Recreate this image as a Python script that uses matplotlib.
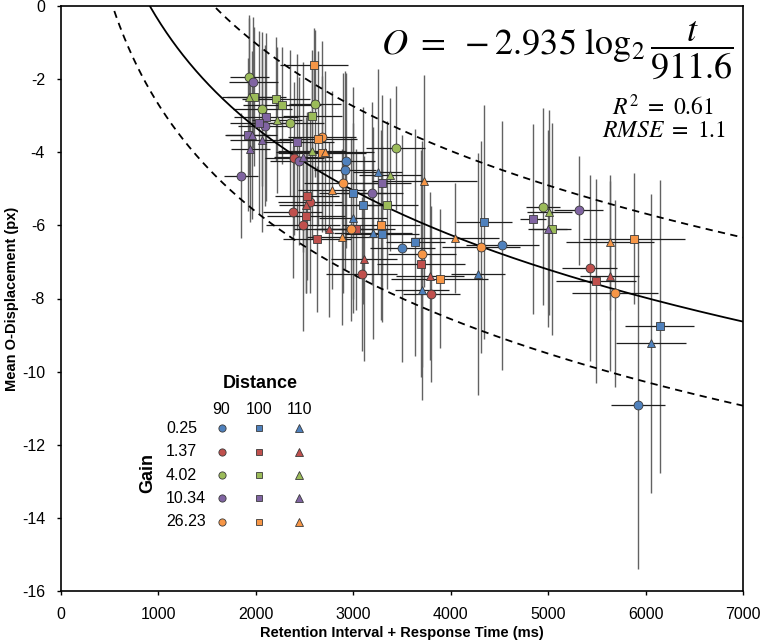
import numpy as np
import matplotlib.pyplot as plt

plt.rcParams['font.family'] = ['Liberation Sans', 'DejaVu Sans']
plt.rcParams['axes.unicode_minus'] = False
plt.rcParams['mathtext.fontset'] = 'stix'

# legend categories
gain_labels = ['0.25', '1.37', '4.02', '10.34', '26.23']
distance_labels = ['90', '100', '110']
gain_colors = ['#4F81BD', '#C0504D', '#9BBB59', '#8064A2', '#F79646']
dist_markers = ['o', 's', '^']

# data points
gain_idx = [0]*17 + [1]*18 + [2]*17 + [3]*17 + [4]*18
dist_idx = ([0]*5 + [1]*6 + [2]*6 +
            [0]*7 + [1]*6 + [2]*5 +
            [0]*6 + [1]*6 + [2]*5 +
            [0]*6 + [1]*6 + [2]*5 +
            [0]*6 + [1]*6 + [2]*6)
t_ms = [2925, 2918, 3505, 4530, 5925,
        3000, 3100, 3292, 3637, 4342, 6143,
        3251, 3000, 3199, 4280, 3702, 6056,
        2395, 2559, 2378, 2487, 3086, 3801, 5427,
        2525, 2512, 2625, 3028, 3695, 5494,
        2515, 2754, 3113, 3790, 5632,
        1930, 2066, 2350, 2607, 3435, 4947,
        1978, 2207, 2268, 2580, 3343, 5037,
        1933, 2217, 2576, 3377, 5012,
        1974, 2097, 2443, 1848, 3192, 5314,
        2104, 2032, 1916, 2425, 3292, 4842,
        1957, 2066, 1943, 2484, 4996,
        2679, 2894, 2980, 3702, 4314, 5686,
        2597, 2638, 2679, 3281, 3887, 5881,
        2710, 2781, 2887, 3729, 4041, 5638]
disp = [-4.23, -4.48, -6.63, -6.55, -10.91,
        -5.12, -5.45, -6.24, -6.46, -5.90, -8.76,
        -4.53, -5.79, -6.20, -7.33, -7.77, -9.23,
        -4.17, -5.36, -5.63, -6.00, -7.33, -7.88, -7.17,
        -5.20, -5.74, -6.37, -6.11, -7.05, -7.52,
        -5.44, -6.11, -6.91, -7.39, -7.39,
        -1.95, -2.82, -3.20, -2.67, -3.89, -5.49,
        -2.48, -2.54, -2.72, -3.01, -5.45, -6.09,
        -2.48, -3.12, -3.96, -4.61, -5.64,
        -2.09, -3.28, -4.25, -4.64, -5.12, -5.59,
        -3.04, -3.19, -3.52, -3.72, -4.83, -5.83,
        -3.52, -3.67, -3.91, -4.12, -6.09,
        -3.57, -4.84, -6.11, -6.78, -6.60, -7.86,
        -1.61, -3.63, -4.01, -5.99, -7.46, -6.36,
        -3.99, -5.03, -6.32, -4.79, -6.34, -6.46]
t_err = [300, 320, 330, 375, 275,
         350, 300, 380, 300, 290, 357,
         250, 350, 400, 280, 277, 360,
         300, 330, 300, 380, 365, 295, 283,
         330, 400, 350, 400, 450, 410,
         280, 360, 340, 350, 300,
         200, 300, 350, 270, 300, 170,
         330, 350, 400, 300, 320, 200,
         230, 260, 350, 320, 230,
         250, 280, 300, 175, 320, 250,
         330, 300, 230, 380, 300, 135,
         260, 330, 200, 300, 200,
         350, 400, 380, 350, 400, 445,
         350, 400, 450, 400, 500, 525,
         500, 350, 360, 540, 450, 450]
disp_err = [2.4, 2.7, 3.1, 3.4, 4.5,
            2.9, 2.7, 2.4, 3.1, 3.2, 4.0,
            2.8, 2.6, 2.9, 3.3, 3.0, 4.1,
            2.1, 2.5, 1.8, 2.9, 2.1, 2.4, 2.55,
            2.3, 2.1, 2.0, 2.2, 3.1, 2.8,
            2.4, 2.4, 2.8, 2.3, 2.6,
            1.7, 2.1, 2.0, 2.0, 1.7, 2.7,
            1.9, 1.7, 1.6, 1.8, 2.3, 2.9,
            2.15, 2.0, 2.4, 2.1, 2.8,
            1.8, 2.2, 2.3, 1.7, 2.5, 1.5,
            2.3, 2.5, 2.1, 2.4, 2.4, 2.6,
            2.3, 2.5, 2.0, 2.6, 2.7,
            2.6, 3.0, 2.5, 3.1, 2.9, 2.55,
            1.0, 2.4, 2.1, 2.6, 1.9, 1.8,
            2.2, 2.7, 2.4, 2.9, 1.5, 1.85]

# fitted model O = a*log2(t/t0), band +/- band_w
fit_a = -2.935
fit_t0 = 911.6
band_w = 2.3

t_ms = np.array(t_ms, float)
disp = np.array(disp, float)
t_err = np.array(t_err, float)
disp_err = np.array(disp_err, float)
gain_idx = np.array(gain_idx)
dist_idx = np.array(dist_idx)

W, H = 762, 644
fig = plt.figure(figsize=(W/100, H/100), dpi=100)
ax = fig.add_axes([61/W, (H-591)/H, 682/W, 585/H])

# fitted curve and band
tt = np.linspace(300, 7000, 600)
fit = fit_a*np.log2(tt/fit_t0)
ax.plot(tt, fit, color='black', lw=1.3, zorder=2)
ax.plot(tt, fit + band_w, color='black', lw=1.3, ls=(0, (4, 3)), zorder=2)
ax.plot(tt, fit - band_w, color='black', lw=1.3, ls=(0, (4, 3)), zorder=2)

# error bars
ax.errorbar(t_ms, disp, yerr=disp_err, fmt='none', ecolor='#626262', elinewidth=1.0, capsize=0, zorder=1)
ax.errorbar(t_ms, disp, xerr=t_err, fmt='none', ecolor='#1e1e1e', elinewidth=0.9, capsize=0, zorder=1)

# markers
msize = {'o': 6.4, 's': 6.0, '^': 6.4}
for g in range(len(gain_labels)):
    for d in range(len(distance_labels)):
        m = (gain_idx == g) & (dist_idx == d)
        mk = dist_markers[d]
        ax.plot(t_ms[m], disp[m], ls='none', marker=mk, ms=msize[mk],
                mfc=gain_colors[g], mec='#3a3a3a', mew=0.6, zorder=3)

ax.set_xlim(0, 7000)
ax.set_ylim(-16, 0)
ax.set_xticks(range(0, 7001, 1000))
ax.set_yticks(range(-16, 1, 2))
ax.tick_params(direction='out', length=3, width=1, labelsize=11.5, pad=8.5)
for s in ax.spines.values():
    s.set_linewidth(1.2)
ax.set_xlabel('Retention Interval + Response Time (ms)', fontsize=10.5, fontweight='bold', labelpad=3)
ax.set_ylabel('Mean O-Displacement (px)', fontsize=10.5, fontweight='bold', labelpad=2)

# equation text
def axfrac(px, py):
    return (px - 61)/682, (591 - py)/585

ax.text(*axfrac(733, 50), r'$O\ =\ -2.935\ \log_2\dfrac{t}{911.6}$', transform=ax.transAxes,
        ha='right', va='center', fontsize=26)
ax.text(*axfrac(663, 115), r'$R^2\ =\ 0.61$', transform=ax.transAxes, ha='center', va='baseline', fontsize=17)
ax.text(*axfrac(664, 137), r'$RMSE\ =\ 1.1$', transform=ax.transAxes, ha='center', va='baseline', fontsize=17)

# legend grid
ax.text(*axfrac(260, 384), 'Distance', transform=ax.transAxes, ha='center', va='center',
        fontsize=13, fontweight='bold')
col_x = [221.5, 259, 299]
row_y = [428.3, 451.7, 475, 498.3, 521.7]
for d, lab in enumerate(distance_labels):
    ax.text(*axfrac(col_x[d], 409), lab, transform=ax.transAxes, ha='center', va='center', fontsize=11.5)
for g, lab in enumerate(gain_labels):
    ax.text(*axfrac(166, row_y[g]), lab, transform=ax.transAxes, ha='left', va='center', fontsize=11.5)
    for d in range(len(distance_labels)):
        mk = dist_markers[d]
        ax.plot(*axfrac(col_x[d], row_y[g]), transform=ax.transAxes, marker=mk,
                ms=msize[mk]-1.2, mfc=gain_colors[g], mec='#3a3a3a', mew=0.6, ls='none', clip_on=False)
ax.text(*axfrac(148, 473), 'Gain', transform=ax.transAxes, ha='center', va='center',
        fontsize=13, fontweight='bold', rotation=90)

fig.savefig('out.png', dpi=100)
